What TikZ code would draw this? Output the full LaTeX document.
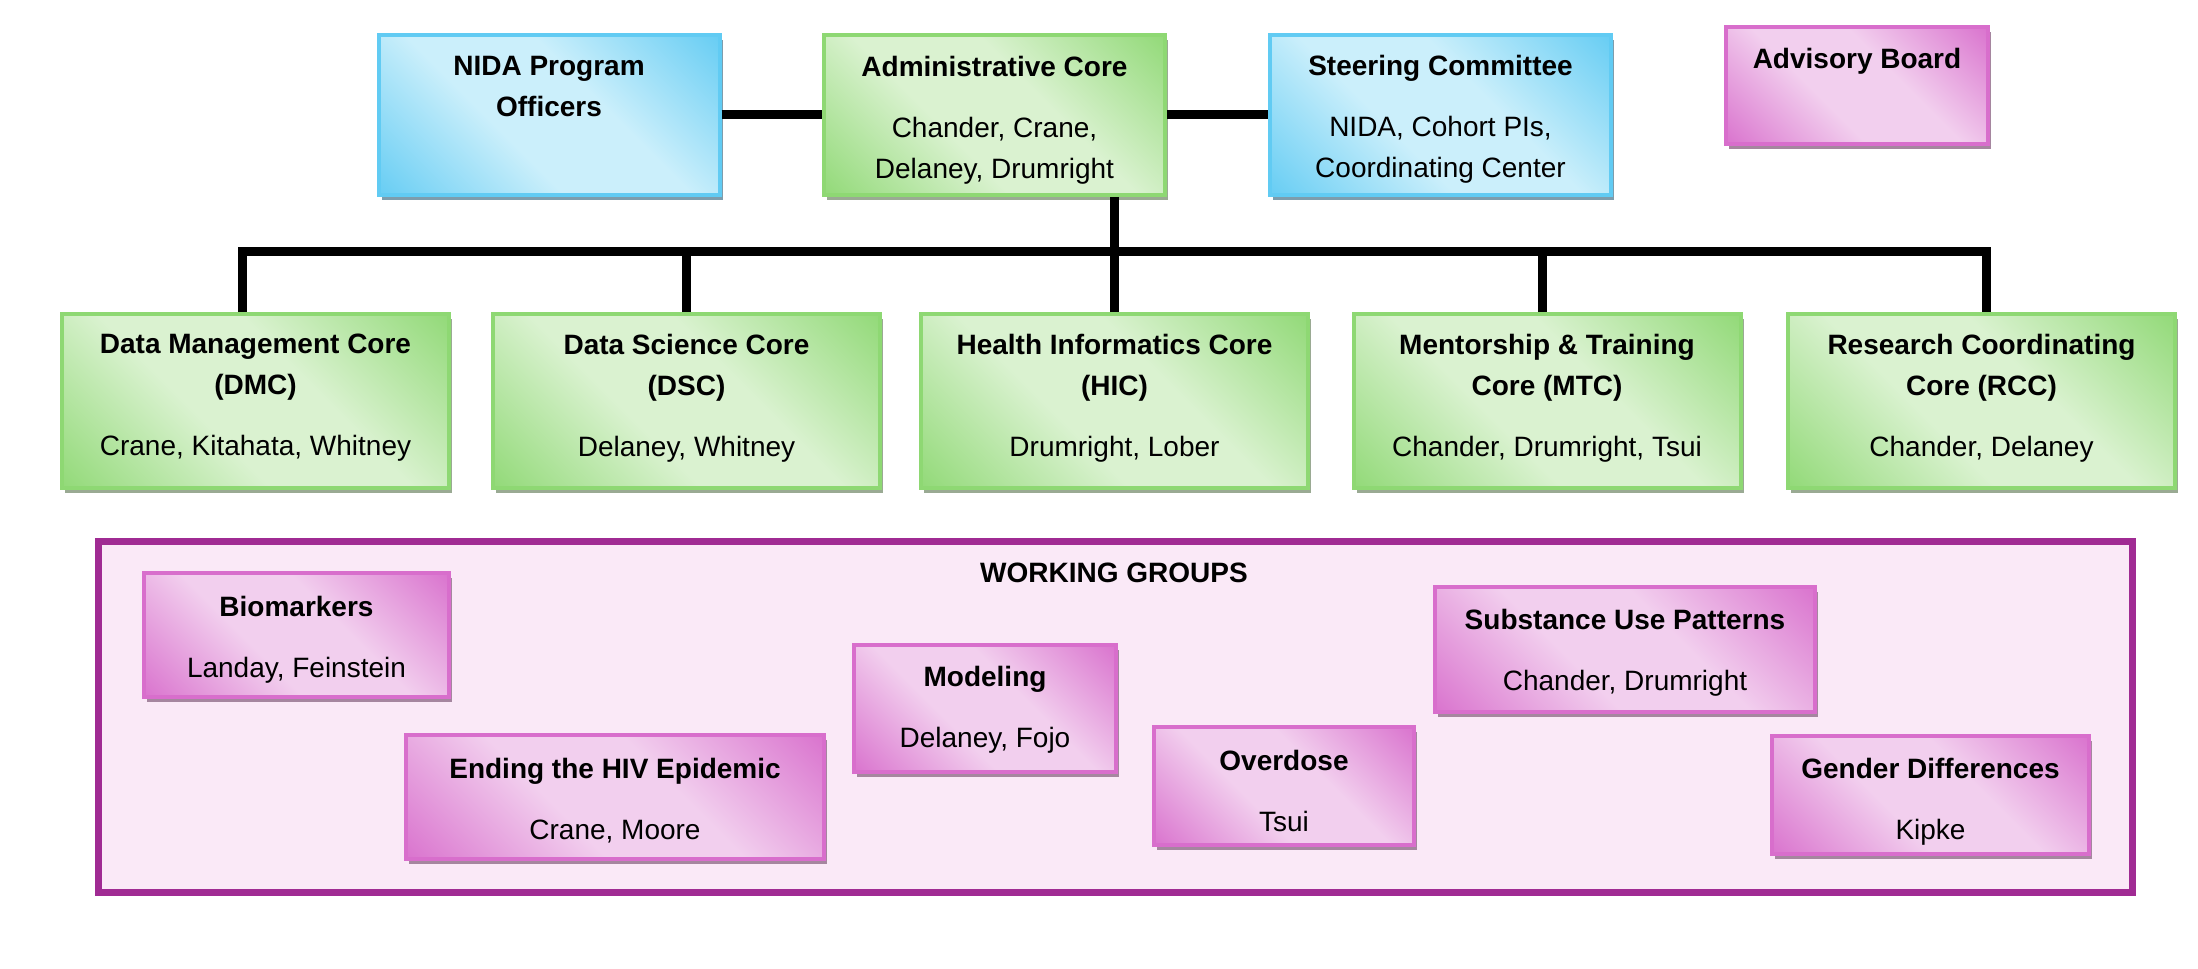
\documentclass[tikz,border=0pt]{standalone}
\usepackage{fontspec}
\setmainfont{Liberation Sans}
\usetikzlibrary{shadows,calc}
\definecolor{gdark}{HTML}{8ED873}
\definecolor{glight}{HTML}{DAF2D0}
\definecolor{gshadow}{HTML}{9AAA93}
\definecolor{bdark}{HTML}{61CBF3}
\definecolor{blight}{HTML}{CBEFFB}
\definecolor{bshadow}{HTML}{7D9DAD}
\definecolor{pdark}{HTML}{D86ECC}
\definecolor{plight}{HTML}{F2CFEE}
\definecolor{pshadow}{HTML}{A5869F}
\definecolor{frameline}{HTML}{A02B93}
\definecolor{framefill}{HTML}{FAE9F7}
\pgfdeclareverticalshading{gshade}{100bp}{color(0bp)=(gdark); color(13bp)=(gdark); color(41bp)=(glight); color(59bp)=(glight); color(87bp)=(gdark); color(100bp)=(gdark)}
\pgfdeclareverticalshading{bshade}{100bp}{color(0bp)=(bdark); color(13bp)=(bdark); color(41bp)=(blight); color(59bp)=(blight); color(87bp)=(bdark); color(100bp)=(bdark)}
\pgfdeclareverticalshading{pshade}{100bp}{color(0bp)=(pdark); color(13bp)=(pdark); color(41bp)=(plight); color(59bp)=(plight); color(87bp)=(pdark); color(100bp)=(pdark)}
\begin{document}
\begin{tikzpicture}[x=0.5pt,y=-0.5pt,
  box/.style={draw, line width=2pt, inner sep=0pt},
  txt/.style={align=center, text=black, inner sep=0pt,
    font=\fontsize{14}{20.5}\selectfont},
  gbox/.style={box, draw=gdark, shade, shading=gshade, shading angle=-45,
    drop shadow={shadow xshift=1.5pt, shadow yshift=-2.5pt, fill=gshadow, opacity=1}},
  bbox/.style={box, draw=bdark, shade, shading=bshade, shading angle=-45,
    drop shadow={shadow xshift=1.5pt, shadow yshift=-2.5pt, fill=bshadow, opacity=1}},
  pbox/.style={box, draw=pdark, shade, shading=pshade, shading angle=-45,
    drop shadow={shadow xshift=1.5pt, shadow yshift=-2.5pt, fill=pshadow, opacity=1}},
  topsize/.style={minimum width=170.5pt, minimum height=80pt},
  coresize/.style={minimum width=193.5pt, minimum height=87pt},
  conn/.style={draw=black, line width=4.5pt}
]
\useasboundingbox (0,0) rectangle (2198,968);

% working groups frame
\node[draw=frameline, fill=framefill, line width=3.5pt, minimum width=1017pt, minimum height=175.5pt, inner sep=0pt] (wgframe) at (1115.5,716.5) {};
\node[font=\fontsize{14}{17}\selectfont\bfseries, inner sep=0pt] (wgtitle) at (1114,573) {WORKING GROUPS};

% top row
\node[bbox, topsize] (nida) at (549,115) {};
\node[txt, yshift=-4pt] (nida-t) at (nida) {\textbf{NIDA Program}\\\textbf{Officers}\\[10pt]\strut};
\node[gbox, topsize] (admin) at (994.5,115) {};
\node[txt, yshift=-2.5pt] (admin-t) at (admin) {\textbf{Administrative Core}\\[10pt]Chander, Crane,\\Delaney, Drumright};
\node[bbox, topsize] (steer) at (1440.5,115) {};
\node[txt, yshift=-2pt] (steer-t) at (steer) {\textbf{Steering Committee}\\[10pt]NIDA, Cohort PIs,\\Coordinating Center};
\node[pbox, minimum width=131pt, minimum height=58.5pt] (adv) at (1857,85.5) {};
\node[txt, yshift=-5pt] (adv-t) at (adv) {\textbf{Advisory Board}\\[10pt]\strut};

% cores
\node[gbox, coresize] (dmc) at (255.5,401) {};
\node[txt, yshift=1.5pt] (dmc-t) at (dmc) {\textbf{Data Management Core}\\\textbf{(DMC)}\\[10pt]Crane, Kitahata, Whitney};
\node[gbox, coresize] (dsc) at (686.5,401) {};
\node[txt, yshift=1.5pt] (dsc-t) at (dsc) {\textbf{Data Science Core}\\\textbf{(DSC)}\\[10pt]Delaney, Whitney};
\node[gbox, coresize] (hic) at (1114.5,401) {};
\node[txt, yshift=1.5pt] (hic-t) at (hic) {\textbf{Health Informatics Core}\\\textbf{(HIC)}\\[10pt]Drumright, Lober};
\node[gbox, coresize] (mtc) at (1547,401) {};
\node[txt, yshift=1.5pt] (mtc-t) at (mtc) {\textbf{Mentorship \& Training}\\\textbf{Core (MTC)}\\[10pt]Chander, Drumright, Tsui};
\node[gbox, coresize] (rcc) at (1981.5,401) {};
\node[txt, yshift=1.5pt] (rcc-t) at (rcc) {\textbf{Research Coordinating}\\\textbf{Core (RCC)}\\[10pt]Chander, Delaney};

% working groups
\node[pbox, minimum width=152.5pt, minimum height=62pt] (bio) at (296.5,635) {};
\node[txt, yshift=-2.5pt] (bio-t) at (bio) {\textbf{Biomarkers}\\[10pt]Landay, Feinstein};
\node[pbox, minimum width=209pt, minimum height=62pt] (ehe) at (615,797) {};
\node[txt, yshift=-1.75pt] (ehe-t) at (ehe) {\textbf{Ending the HIV Epidemic}\\[10pt]Crane, Moore};
\node[pbox, minimum width=131pt, minimum height=63.5pt] (mod) at (985,708.5) {};
\node[txt, yshift=-0.5pt] (mod-t) at (mod) {\textbf{Modeling}\\[10pt]Delaney, Fojo};
\node[pbox, minimum width=130pt, minimum height=59pt] (od) at (1284,786) {};
\node[txt, yshift=-2.5pt] (od-t) at (od) {\textbf{Overdose}\\[10pt]Tsui};
\node[pbox, minimum width=190pt, minimum height=62.5pt] (sup) at (1625,649.5) {};
\node[txt, yshift=-1.5pt] (sup-t) at (sup) {\textbf{Substance Use Patterns}\\[10pt]Chander, Drumright};
\node[pbox, minimum width=158.5pt, minimum height=59pt] (gd) at (1930.5,795) {};
\node[txt, yshift=-3.5pt] (gd-t) at (gd) {\textbf{Gender Differences}\\[10pt]Kipke};

% connectors
\coordinate (hub) at (1114,251.5);
\draw[conn] (nida.east) -- (admin.west);
\draw[conn] (admin.east) -- (steer.west);
\draw[conn] (admin.south -| hub) -- (hub);
\draw[conn] ($(dmc.north)+(-13,0)$) |- (hub) -| ($(rcc.north)+(4.5,0)$);
\draw[conn] (dsc.north) -- (dsc.north |- hub);
\draw[conn] (hic.north -| hub) -- (hub);
\draw[conn] ($(mtc.north)+(-5,0)$) -- ($(mtc.north |- hub)+(-5,0)$);
\end{tikzpicture}
\end{document}
